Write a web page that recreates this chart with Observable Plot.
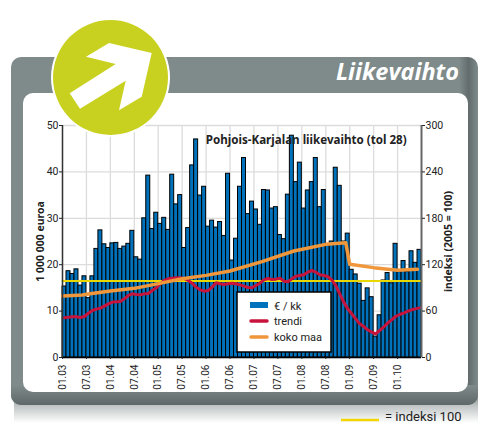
<!DOCTYPE html>
<html><head><meta charset="utf-8">
<script src="https://cdn.jsdelivr.net/npm/d3@7"></script>
<script src="https://cdn.jsdelivr.net/npm/@observablehq/plot@0.6"></script>
<style>
html,body{margin:0;padding:0;background:#fff;overflow:hidden}
#wrap{position:relative;width:478px;height:423px;overflow:hidden;font-family:Roboto,sans-serif}
#shadow{position:absolute;left:14px;top:396px;width:464px;height:27px;background:linear-gradient(#8f9696,#c4c8c8 40%,#fff)}
#panel{position:absolute;left:11px;top:57px;width:467px;height:348px;border-radius:10px;background:linear-gradient(90deg,#7f8a8a 0,#7f8a8a 96%,#626c6c 98%,#7f8a8a 100%)}
#panel2{position:absolute;left:11px;top:385px;width:467px;height:20px;border-radius:0 0 10px 10px;background:linear-gradient(#7f8a8a,#5f6868)}
#inner{position:absolute;left:23px;top:93px;width:445px;height:299px;border-radius:10px;background:#fff}
#chart,#over{position:absolute;left:0;top:0}
</style></head><body>
<div id="wrap"><div id="shadow"></div><div id="panel"></div><div id="panel2"></div><div id="inner"></div><div id="chart"></div>
<svg id="over" width="478" height="423" viewBox="0 0 478 423">
<circle cx="110.5" cy="77.5" r="59.5" fill="#fff"/>
<circle cx="110.5" cy="77.5" r="57.5" fill="#c9d120"/>
<polygon fill="#fff" points="86,56.7 109,43 151.7,53 141.7,96.7 119,110.3 125.7,80.7 80,108.7 69.7,93.3 115.7,64"/>
<text x="459" y="80" text-anchor="end" fill="#fff" font-family="Open Sans" font-style="italic" font-weight="700" font-size="23.5">Liikevaihto</text>
<rect x="237" y="292" width="94" height="60" fill="#fff" stroke="#000" stroke-width="1.5"/>
<rect x="250" y="302" width="18" height="6" fill="#0072bc"/>
<line x1="251" x2="267" y1="321" y2="321" stroke="#c8143c" stroke-width="3.5" stroke-linecap="round"/>
<line x1="251" x2="267" y1="337" y2="337" stroke="#f0973c" stroke-width="3.5" stroke-linecap="round"/>
<g font-size="11" fill="#222" font-family="Roboto"><text x="274" y="310">€ / kk</text><text x="274" y="325">trendi</text><text x="274" y="341">koko maa</text></g>
<line x1="341" x2="379" y1="420" y2="420" stroke="#f2d500" stroke-width="2.5"/>
<text x="385" y="421" font-size="13" fill="#222" font-family="Roboto">= indeksi 100</text>
</svg></div>
<script>
const tickLabels=["01.03","07.03","01.04","07.04","01.05","07.05","01.06","07.06","01.07","07.07","01.08","07.08","01.09","07.09","01.10"];
const tickMonths=[0,6,12,18,24,30,36,42,48,54,60,66,72,78,84];
const revenue=[15.3,18.6,18.0,19.0,15.5,17.5,12.8,17.5,23.4,27.4,24.4,23.6,24.6,24.7,23.4,23.9,24.5,27.3,21.6,21.1,30.0,39.2,27.7,31.2,28.8,30.1,27.5,39.4,33.0,35.0,23.6,27.9,41.4,47.0,34.9,36.8,28.2,29.5,28.0,29.2,26.2,39.6,20.9,25.6,36.8,43.0,30.9,33.6,31.9,28.6,36.1,36.0,32.1,32.4,26.4,25.5,35.1,47.8,37.8,42.0,32.1,36.0,37.8,43.0,32.4,36.1,24.2,25.0,40.9,37.0,25.0,26.7,18.9,17.9,15.9,12.2,14.9,13.0,4.5,9.1,16.6,18.2,16.0,24.5,18.4,20.8,18.4,22.9,20.4,23.2];
const trend=[51.3,52.2,52.6,52.6,51.7,53,57.3,60.8,62.5,63.8,66.4,69.4,71.6,72,72.4,75.9,80.2,82.3,81.5,81,82.3,82.8,86.6,90.1,95.3,99.6,101.7,102.6,103,103,102.2,99.6,96.1,91,87.5,85.8,86.6,91,96.6,95.3,94.4,95.3,96.1,95.3,94,92.2,90.5,90.1,93.1,96.1,100.4,102.2,100.9,101.3,102.6,98.7,97.9,101.7,105.2,106,106.9,110.4,112.5,110.4,106.9,106,104.7,100.4,93.1,82.3,71.6,62.9,56.5,50,43.5,40.1,35.8,32.8,30.6,34.9,39.2,44.4,48.7,53,55.6,57.3,59.5,61.7,62.9,64.2];
const countryMonths=[0,5,6,12,18,24,30,36,42,50,58,66,71,72,78,84,89];
const countryIndex=[79.5,80.8,81.7,86,89.4,95.5,101.9,106.2,111.8,123.9,137.7,146.3,148.5,120.5,116.2,112.7,114];
const indexBase=[0,90];
const leftTicks=[0,10,20,30,40,50];
const perEuro=6;
const months=revenue.map((_,i)=>i);
const font="Roboto,sans-serif";
const chart=Plot.plot({
  width:478,height:423,marginLeft:62,marginRight:57,marginTop:125,marginBottom:66,
  style:{background:"transparent",fontFamily:font,fontSize:"10px",color:"#222"},
  x:{domain:[0,90],axis:null},y:{domain:[0,50],axis:null},
  marks:[
    Plot.gridY(leftTicks,{stroke:"#dcdcdc",strokeOpacity:1,strokeWidth:1.3}),
    Plot.gridX(tickMonths,{stroke:"#dcdcdc",strokeOpacity:1,strokeWidth:1.3}),
    Plot.rectY(months,{x1:d=>d,x2:d=>d+1,y:d=>revenue[d],fill:"#0072bc",stroke:"#000",strokeWidth:1,inset:0}),
    Plot.line(indexBase,{x:d=>d,y:()=>99/perEuro,stroke:"#e8d800",strokeWidth:2}),
    Plot.line(months,{x:d=>d+0.5,y:d=>trend[d]/perEuro,stroke:"#c8143c",strokeWidth:3,curve:"linear"}),
    Plot.line(countryMonths,{x:d=>d,y:(d,i)=>countryIndex[i]/perEuro,stroke:"#f0973c",strokeWidth:3.5}),
    Plot.ruleY([0],{stroke:"#000",strokeWidth:1.5}),
    Plot.ruleX([0],{stroke:"#333",strokeWidth:1.5}),
    Plot.ruleX([90],{stroke:"#666",strokeWidth:2}),
    Plot.axisY({ticks:leftTicks,anchor:"left",tickSize:3,tickPadding:1,label:null,fontSize:10.5,stroke:"#222"}),
    Plot.axisY({ticks:leftTicks,anchor:"right",tickSize:3,tickPadding:1,label:null,tickFormat:d=>d*perEuro,fontSize:10.5,stroke:"#222"}),
    Plot.axisX({ticks:tickMonths,tickFormat:(d,i)=>tickLabels[tickMonths.indexOf(d)],tickRotate:-90,tickSize:2,tickPadding:5,label:null,fontSize:10,stroke:"#222"}),
    Plot.text(["1 000 000 euroa"],{x:0,y:25,dx:-22,rotate:-90,fontWeight:"bold",fontSize:10.5,fill:"#222",fontFamily:"'Noto Sans',sans-serif"}),
    Plot.text(["indeksi (2005 = 100)"],{x:90,y:25,dx:27,rotate:-90,fontWeight:"bold",fontSize:10.5,fill:"#222",fontFamily:"'Noto Sans',sans-serif"}),
    Plot.text(["Pohjois-Karjalan liikevaihto (tol 28)"],{x:61.1,y:46.8,fontWeight:"bold",fontSize:11.6,fill:"#222",fontFamily:"'Noto Sans',sans-serif"})
  ]
});
document.getElementById("chart").appendChild(chart);
</script></body></html>
